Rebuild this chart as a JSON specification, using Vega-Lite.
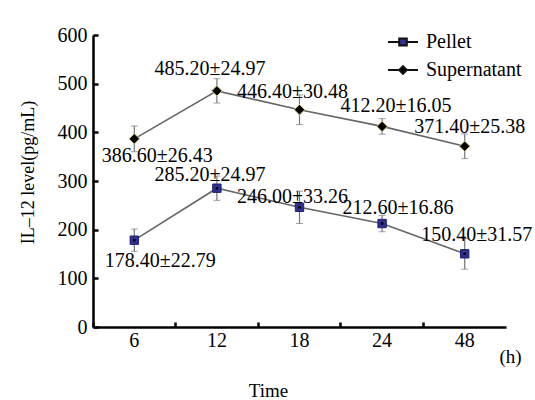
{
  "$schema": "https://vega.github.io/schema/vega-lite/v6.json",
  "width": 413,
  "height": 292,
  "autosize": "none",
  "padding": {"left": 93, "top": 35, "right": 29, "bottom": 73},
  "background": "#ffffff",
  "config": {
    "view": {"stroke": null},
    "font": "Liberation Serif",
    "text": {"font": "Liberation Serif"},
    "axis": {"labelFont": "Liberation Serif", "titleFont": "Liberation Serif", "titleFontWeight": 400},
    "legend": {"labelFont": "Liberation Serif", "labelFontSize": 20, "labelColor": "#000000"},
    "title": {"font": "Liberation Serif", "fontWeight": 400}
  },
  "title": {
    "text": "Time",
    "orient": "bottom",
    "anchor": "middle",
    "dx": -31,
    "offset": 16,
    "font": "Liberation Serif",
    "fontSize": 19,
    "fontWeight": 400,
    "color": "#000000"
  },
  "data": {
    "values": [
      {"time": "6", "series": "Pellet", "mean": 178.4, "sd": 22.79, "label": "178.40±22.79"},
      {"time": "12", "series": "Pellet", "mean": 285.2, "sd": 24.97, "label": "285.20±24.97"},
      {"time": "18", "series": "Pellet", "mean": 246.0, "sd": 33.26, "label": "246.00±33.26"},
      {"time": "24", "series": "Pellet", "mean": 212.6, "sd": 16.86, "label": "212.60±16.86"},
      {"time": "48", "series": "Pellet", "mean": 150.4, "sd": 31.57, "label": "150.40±31.57"},
      {"time": "6", "series": "Supernatant", "mean": 386.6, "sd": 26.43, "label": "386.60±26.43"},
      {"time": "12", "series": "Supernatant", "mean": 485.2, "sd": 24.97, "label": "485.20±24.97"},
      {"time": "18", "series": "Supernatant", "mean": 446.4, "sd": 30.48, "label": "446.40±30.48"},
      {"time": "24", "series": "Supernatant", "mean": 412.2, "sd": 16.05, "label": "412.20±16.05"},
      {"time": "48", "series": "Supernatant", "mean": 371.4, "sd": 25.38, "label": "371.40±25.38"}
    ]
  },
  "encoding": {
    "x": {
      "field": "time",
      "type": "nominal",
      "sort": ["6", "12", "18", "24", "48"],
      "scale": {"type": "band", "paddingInner": 0, "paddingOuter": 0},
      "axis": {
        "title": "(h)",
        "titleX": 417,
        "titleY": 29,
        "titleAlign": "center",
        "titleBaseline": "middle",
        "titleFont": "Liberation Serif",
        "titleFontSize": 19,
        "titleFontWeight": 400,
        "titleColor": "#000000",
        "labelAngle": 0,
        "labelFont": "Liberation Serif",
        "labelFontSize": 20,
        "labelColor": "#000000",
        "labelPadding": 18,
        "labelBaseline": "middle",
        "bandPosition": 0,
        "domainColor": "#000000",
        "domainWidth": 2.5,
        "tickColor": "#000000",
        "tickWidth": 2.5,
        "tickSize": -5,
        "grid": false
      }
    },
    "y": {
      "field": "mean",
      "type": "quantitative",
      "scale": {"domain": [0, 600], "nice": false},
      "axis": {
        "title": "IL–12 level(pg/mL)",
        "values": [0, 100, 200, 300, 400, 500, 600],
        "titleX": -65,
        "titleY": 137,
        "titleAngle": -90,
        "titleAlign": "center",
        "titleBaseline": "middle",
        "titleFont": "Liberation Serif",
        "titleFontSize": 18,
        "titleFontWeight": 400,
        "titleColor": "#000000",
        "labelFont": "Liberation Serif",
        "labelFontSize": 20,
        "labelColor": "#000000",
        "labelPadding": 11,
        "domainColor": "#000000",
        "domainWidth": 2.5,
        "tickColor": "#000000",
        "tickWidth": 2.5,
        "tickSize": -5,
        "grid": false
      }
    }
  },
  "layer": [
    {
      "mark": {"type": "line", "color": "#666666", "strokeWidth": 1.6},
      "encoding": {"detail": {"field": "series"}}
    },
    {
      "mark": {"type": "errorbar", "ticks": {"size": 7, "color": "#777777", "strokeWidth": 1.2}, "rule": {"color": "#777777", "strokeWidth": 1.2}},
      "encoding": {
        "y": {"field": "mean", "type": "quantitative"},
        "yError": {"field": "sd"},
        "detail": {"field": "series"}
      }
    },
    {
      "mark": {"type": "point", "filled": true, "opacity": 0, "strokeWidth": 2},
      "encoding": {
        "shape": {
          "field": "series",
          "type": "nominal",
          "scale": {"domain": ["Pellet", "Supernatant"], "range": ["M-1.5,0H-0.38M0.38,0H1.5M-0.38,-0.34H0.38V0.34H-0.38Z", "M-1.5,0H-0.38M0.38,0H1.5M0,-0.38L0.38,0L0,0.38L-0.38,0Z"]},
          "legend": {
            "title": null,
            "orient": "none",
            "legendX": 299,
            "legendY": -4,
            "labelFont": "Liberation Serif",
            "labelFontSize": 20,
            "labelColor": "#000000",
            "labelOffset": 12,
            "rowPadding": 7,
            "symbolSize": 400,
            "symbolOpacity": 1,
            "symbolStrokeWidth": 2
          }
        },
        "fill": {
          "field": "series",
          "type": "nominal",
          "scale": {"domain": ["Pellet", "Supernatant"], "range": ["#2e3192", "#000000"]},
          "legend": {
            "title": null,
            "orient": "none",
            "legendX": 299,
            "legendY": -4,
            "labelFont": "Liberation Serif",
            "labelFontSize": 20,
            "labelColor": "#000000",
            "labelOffset": 12,
            "rowPadding": 7,
            "symbolSize": 400,
            "symbolOpacity": 1,
            "symbolStrokeWidth": 2
          }
        },
        "stroke": {
          "field": "series",
          "type": "nominal",
          "scale": {"domain": ["Pellet", "Supernatant"], "range": ["#111111", "#111111"]},
          "legend": {
            "title": null,
            "orient": "none",
            "legendX": 299,
            "legendY": -4,
            "labelFont": "Liberation Serif",
            "labelFontSize": 20,
            "labelColor": "#000000",
            "labelOffset": 12,
            "rowPadding": 7,
            "symbolSize": 400,
            "symbolOpacity": 1,
            "symbolStrokeWidth": 2
          }
        }
      }
    },
    {
      "transform": [{"filter": "datum.series == 'Pellet'"}],
      "mark": {"type": "point", "shape": "square", "filled": true, "fill": "#2e3192", "stroke": "#1c1f6e", "strokeWidth": 1, "size": 70, "opacity": 1}
    },
    {
      "transform": [{"filter": "datum.series == 'Supernatant'"}],
      "mark": {"type": "point", "shape": "diamond", "filled": true, "fill": "#000000", "stroke": "#d8c87a", "strokeWidth": 1, "size": 110, "opacity": 1}
    },
    {
      "transform": [{"filter": "datum.series == 'Pellet'"}],
      "mark": {"type": "point", "shape": "square", "filled": true, "color": "#000000", "size": 6, "opacity": 1}
    },
    {
      "transform": [{"filter": "datum.time == '6' && datum.series == 'Supernatant'"}],
      "mark": {"type": "text", "fontSize": 20, "dx": 23, "dy": 17, "color": "#000000"},
      "encoding": {"text": {"field": "label"}}
    },
    {
      "transform": [{"filter": "datum.time == '6' && datum.series == 'Pellet'"}],
      "mark": {"type": "text", "fontSize": 20, "dx": 26, "dy": 21, "color": "#000000"},
      "encoding": {"text": {"field": "label"}}
    },
    {
      "transform": [{"filter": "datum.time == '12' && datum.series == 'Supernatant'"}],
      "mark": {"type": "text", "fontSize": 20, "dx": -7, "dy": -22, "color": "#000000"},
      "encoding": {"text": {"field": "label"}}
    },
    {
      "transform": [{"filter": "datum.time == '12' && datum.series == 'Pellet'"}],
      "mark": {"type": "text", "fontSize": 20, "dx": -7, "dy": -13, "color": "#000000"},
      "encoding": {"text": {"field": "label"}}
    },
    {
      "transform": [{"filter": "datum.time == '18' && datum.series == 'Supernatant'"}],
      "mark": {"type": "text", "fontSize": 20, "dx": -7, "dy": -18, "color": "#000000"},
      "encoding": {"text": {"field": "label"}}
    },
    {
      "transform": [{"filter": "datum.time == '18' && datum.series == 'Pellet'"}],
      "mark": {"type": "text", "fontSize": 20, "dx": -7, "dy": -10, "color": "#000000"},
      "encoding": {"text": {"field": "label"}}
    },
    {
      "transform": [{"filter": "datum.time == '24' && datum.series == 'Supernatant'"}],
      "mark": {"type": "text", "fontSize": 20, "dx": 14, "dy": -20, "color": "#000000"},
      "encoding": {"text": {"field": "label"}}
    },
    {
      "transform": [{"filter": "datum.time == '24' && datum.series == 'Pellet'"}],
      "mark": {"type": "text", "fontSize": 20, "dx": 16, "dy": -16, "color": "#000000"},
      "encoding": {"text": {"field": "label"}}
    },
    {
      "transform": [{"filter": "datum.time == '48' && datum.series == 'Supernatant'"}],
      "mark": {"type": "text", "fontSize": 20, "dx": 5, "dy": -19, "color": "#000000"},
      "encoding": {"text": {"field": "label"}}
    },
    {
      "transform": [{"filter": "datum.time == '48' && datum.series == 'Pellet'"}],
      "mark": {"type": "text", "fontSize": 20, "dx": 12, "dy": -19, "color": "#000000"},
      "encoding": {"text": {"field": "label"}}
    }
  ]
}
